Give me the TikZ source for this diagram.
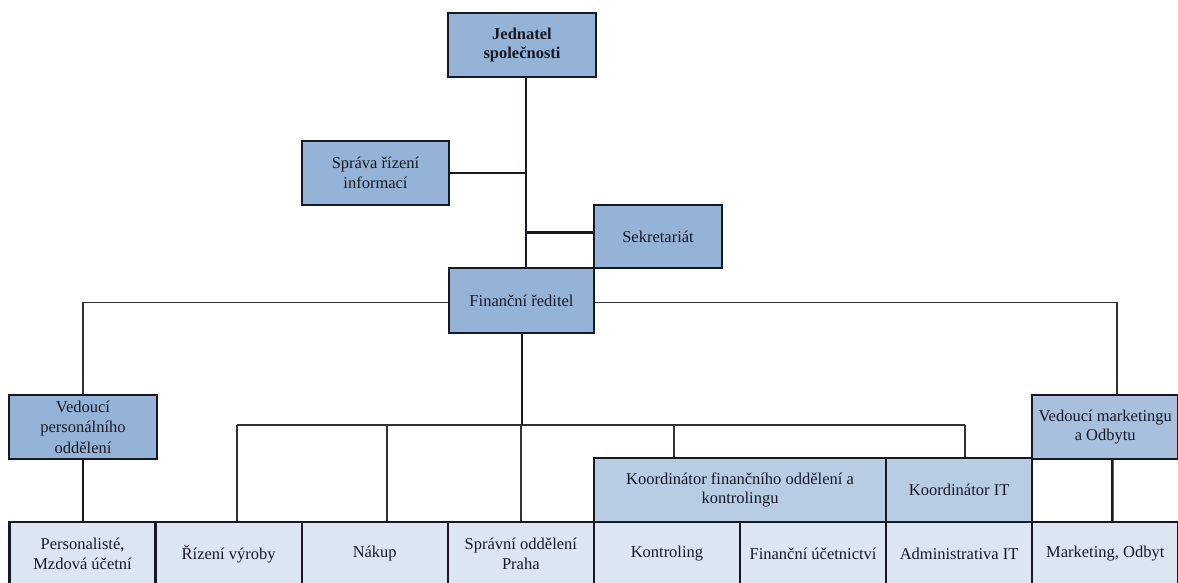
\documentclass[tikz,border=0pt]{standalone}
\usepackage{fontspec}
\setmainfont{Liberation Serif}
\usepackage{tikz}
\usetikzlibrary{calc}
\definecolor{boxtop}{RGB}{149,179,215}
\definecolor{boxmar}{RGB}{168,191,222}
\definecolor{boxmid}{RGB}{184,204,228}
\definecolor{boxlow}{RGB}{220,230,242}
\definecolor{inkdark}{RGB}{22,24,38}
\newcommand{\clrtop}{boxtop}
\newcommand{\clrmar}{boxmar}
\newcommand{\clrmid}{boxmid}
\newcommand{\clrlow}{boxlow}

\begin{document}
\begin{tikzpicture}[x=1pt,y=-1pt,
    box/.style={draw=inkdark, line width=2.4pt, align=center, inner sep=2pt,
        text=inkdark, font=\fontsize{16.5}{19.5}\selectfont},
    conn/.style={line width=2.5pt, inkdark},
    thinconn/.style={line width=1.7pt, black!80}]

        \useasboundingbox (0,0) rectangle (1178,583);

        % upper part
        \node[box, fill=\clrtop, minimum width=148pt, minimum height=64pt,
            font=\bfseries\fontsize{16.5}{19.5}\selectfont] (jed) at (522,45) {Jednatel\\společnosti};
        \node[box, fill=\clrtop, minimum width=147pt, minimum height=64pt] (sprava) at (375.5,173) {Správa řízení\\informací};
        \node[box, fill=\clrtop, minimum width=128pt, minimum height=63pt] (sekr) at (658,236.5) {Sekretariát};
        \node[box, fill=\clrtop, minimum width=145pt, minimum height=65pt] (fin) at (521.5,300.5) {Finanční ředitel};

        % middle part
        \node[box, fill=\clrtop, minimum width=148pt, minimum height=64pt,
            font=\fontsize{16.5}{20.5}\selectfont] (vedper) at (83,427) {Vedoucí\\personálního\\oddělení};
        \node[box, fill=\clrmar, minimum width=146.1pt, minimum height=64pt] (vedmar) at (1105.25,427) {Vedoucí marketingu\\a Odbytu};
        \node[box, fill=\clrmid, minimum width=292.2pt, minimum height=64pt] (kfin) at (740,490) {Koordinátor finančního oddělení a\\kontrolingu};
        \node[box, fill=\clrmid, minimum width=146.1pt, minimum height=64pt] (kit) at (959.15,490) {Koordinátor IT};

        % bottom row
        \foreach \n/\t [count=\i from 0] in {pers/{Personalisté,\\Mzdová účetní}, rizeni/Řízení výroby, nakup/Nákup,
            spravni/{Správní oddělení\\Praha}, kontr/Kontroling, ucet/Finanční účetnictví,
            admin/Administrativa IT, mark/{Marketing, Odbyt}}
        {
            \node[box, fill=\clrlow, minimum width=146.1pt, minimum height=64pt] (\n) at (82.55+\i*146.1,554) {\t};
        }

        % connectors
        \coordinate (trunk) at ([xshift=4pt]jed.south);
        \draw[conn] (trunk) -- (trunk |- fin.north);
        \draw[conn] (sprava.east) -- (sprava.east -| trunk);
        \draw[conn] ([yshift=4pt]sekr.west) -- ([yshift=4pt]sekr.west -| trunk);

        \draw[thinconn] ([yshift=-2pt]fin.west) -| (vedper.north);
        \draw[thinconn] ([yshift=-2pt]fin.east) -| ([xshift=12pt]vedmar.north);

        \foreach \x/\n in {237/rizeni, 387/nakup, 521/spravni, 674/kfin, 965/kit} {
            \coordinate (b\n) at (\x,425);
            \draw[thinconn] (b\n) -- (b\n |- \n.north);
        }
        \draw[thinconn] (brizeni) -- (bkit);
        \draw[conn, line width=2pt] (fin.south) -- (fin.south |- bspravni);

        \draw[conn] (vedper.south) -- (vedper.south |- pers.north);
        \draw[conn] ([xshift=7pt]vedmar.south) -- ([xshift=7pt]mark.north);

\end{tikzpicture}
\end{document}
